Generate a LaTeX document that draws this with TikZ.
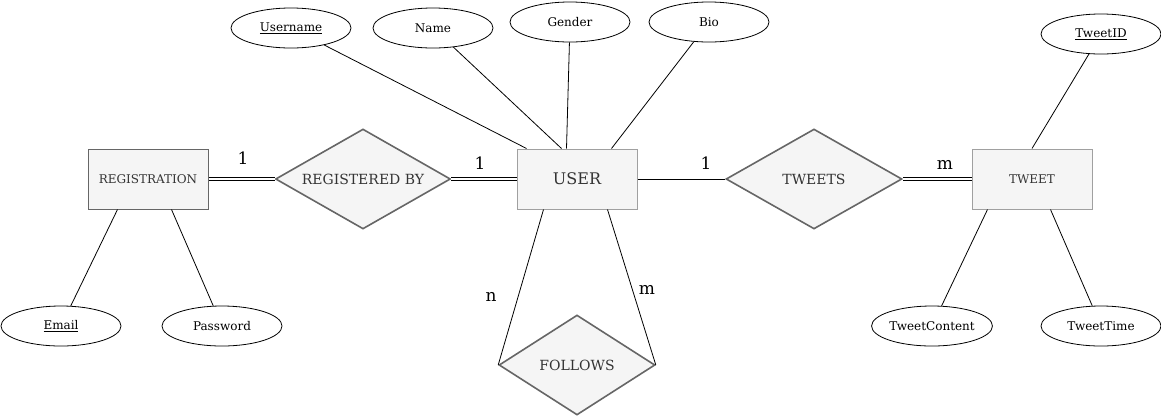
\documentclass[tikz,border=0pt]{standalone}
\usepackage{fontspec}
\setmainfont{DejaVu Serif}
\usetikzlibrary{shapes.geometric}
\definecolor{entityfill}{HTML}{F5F5F5}
\definecolor{entityline}{HTML}{666666}
\definecolor{entitylight}{HTML}{A0A0A0}
\definecolor{labeltext}{HTML}{333333}

\begin{document}
\begin{tikzpicture}[x=1pt, y=-1pt, line width=0.8pt]
      \tikzset{
  entity/.style={
    rectangle,
    draw=entityline,
    fill=entityfill,
    line width=1pt,
    minimum width=120pt,
    minimum height=60pt,
    inner sep=0pt,
    text=labeltext,
    font=\fontsize{12}{14}\selectfont
  },
  relation/.style={
    diamond,
    aspect=1.75,
    draw=entityline,
    fill=entityfill,
    line width=1.6pt,
    minimum height=100pt,
    inner sep=0pt,
    text=labeltext,
    font=\fontsize{14}{16}\selectfont
  },
  attribute/.style={
    ellipse,
    draw,
    line width=0.8pt,
    minimum width=120pt,
    minimum height=40pt,
    inner sep=0pt,
    font=\fontsize{12}{14}\selectfont
  },
  card/.style={
    font=\fontsize{17}{18}\selectfont
  },
  total/.style={
    double,
    double distance=2pt,
    line width=0.9pt
  }
}

\useasboundingbox (0,0) rectangle (1161,416);

% entities
\node [entity] (registration) at (148,179) {REGISTRATION};
\node [entity, draw=entitylight, font=\fontsize{16}{18}\selectfont] (user) at (577,179) {USER};
\node [entity, draw=entitylight] (tweet) at (1032,179) {TWEET};

% relationships
\node [relation, minimum width=175pt] (registeredby) at (363,179) {REGISTERED BY};
\node [relation, minimum width=176pt] (tweets) at (814,179) {TWEETS};
\node [relation, minimum width=156pt] (follows) at (577,365) {FOLLOWS};

% attributes
\foreach \a/\t/\x/\y in {username/\underline{Username}/291/28, name/Name/433/28,
    gender/Gender/570/22, bio/Bio/709/22}
  \node [attribute] (\a) at (\x,\y) {\t};

\foreach \a/\t/\x/\y in {email/\underline{Email}/61/326, password/Password/222/326,
    tweetcontent/TweetContent/932/326, tweettime/TweetTime/1101/326,
    tweetid/\underline{TweetID}/1101/34}
  \node [attribute] (\a) at (\x,\y) {\t};

\foreach \a/\s in {username/10, name/45, gender/50, bio/95}
  \draw (\a) -- ([xshift=\s]user.north west);

\draw (email) -- ([xshift=30]registration.south west);
\draw (password) -- ([xshift=84]registration.south west);
\draw (tweetid) -- (tweet.north);
\draw (tweetcontent) -- ([xshift=16]tweet.south west);
\draw (tweettime) -- ([xshift=79]tweet.south west);

\draw [total] (registration) -- (registeredby);
\draw [total] (registeredby) -- (user);
\draw (user) -- (tweets);
\draw [total] (tweets) -- (tweet);
\draw ([xshift=27]user.south west) -- (follows.west);
\draw ([xshift=91]user.south west) -- (follows.east);

% cardinalities
\node [card] (card-reg) at (243,158) {1};
\node [card] (card-user) at (480,163) {1};
\node [card] (card-tweets) at (706,163) {1};
\node [card] (card-tweet) at (945,165) {m};
\node [card] (card-n) at (491,297) {n};
\node [card] (card-m) at (647,290) {m};
      \end{tikzpicture}
\end{document}
